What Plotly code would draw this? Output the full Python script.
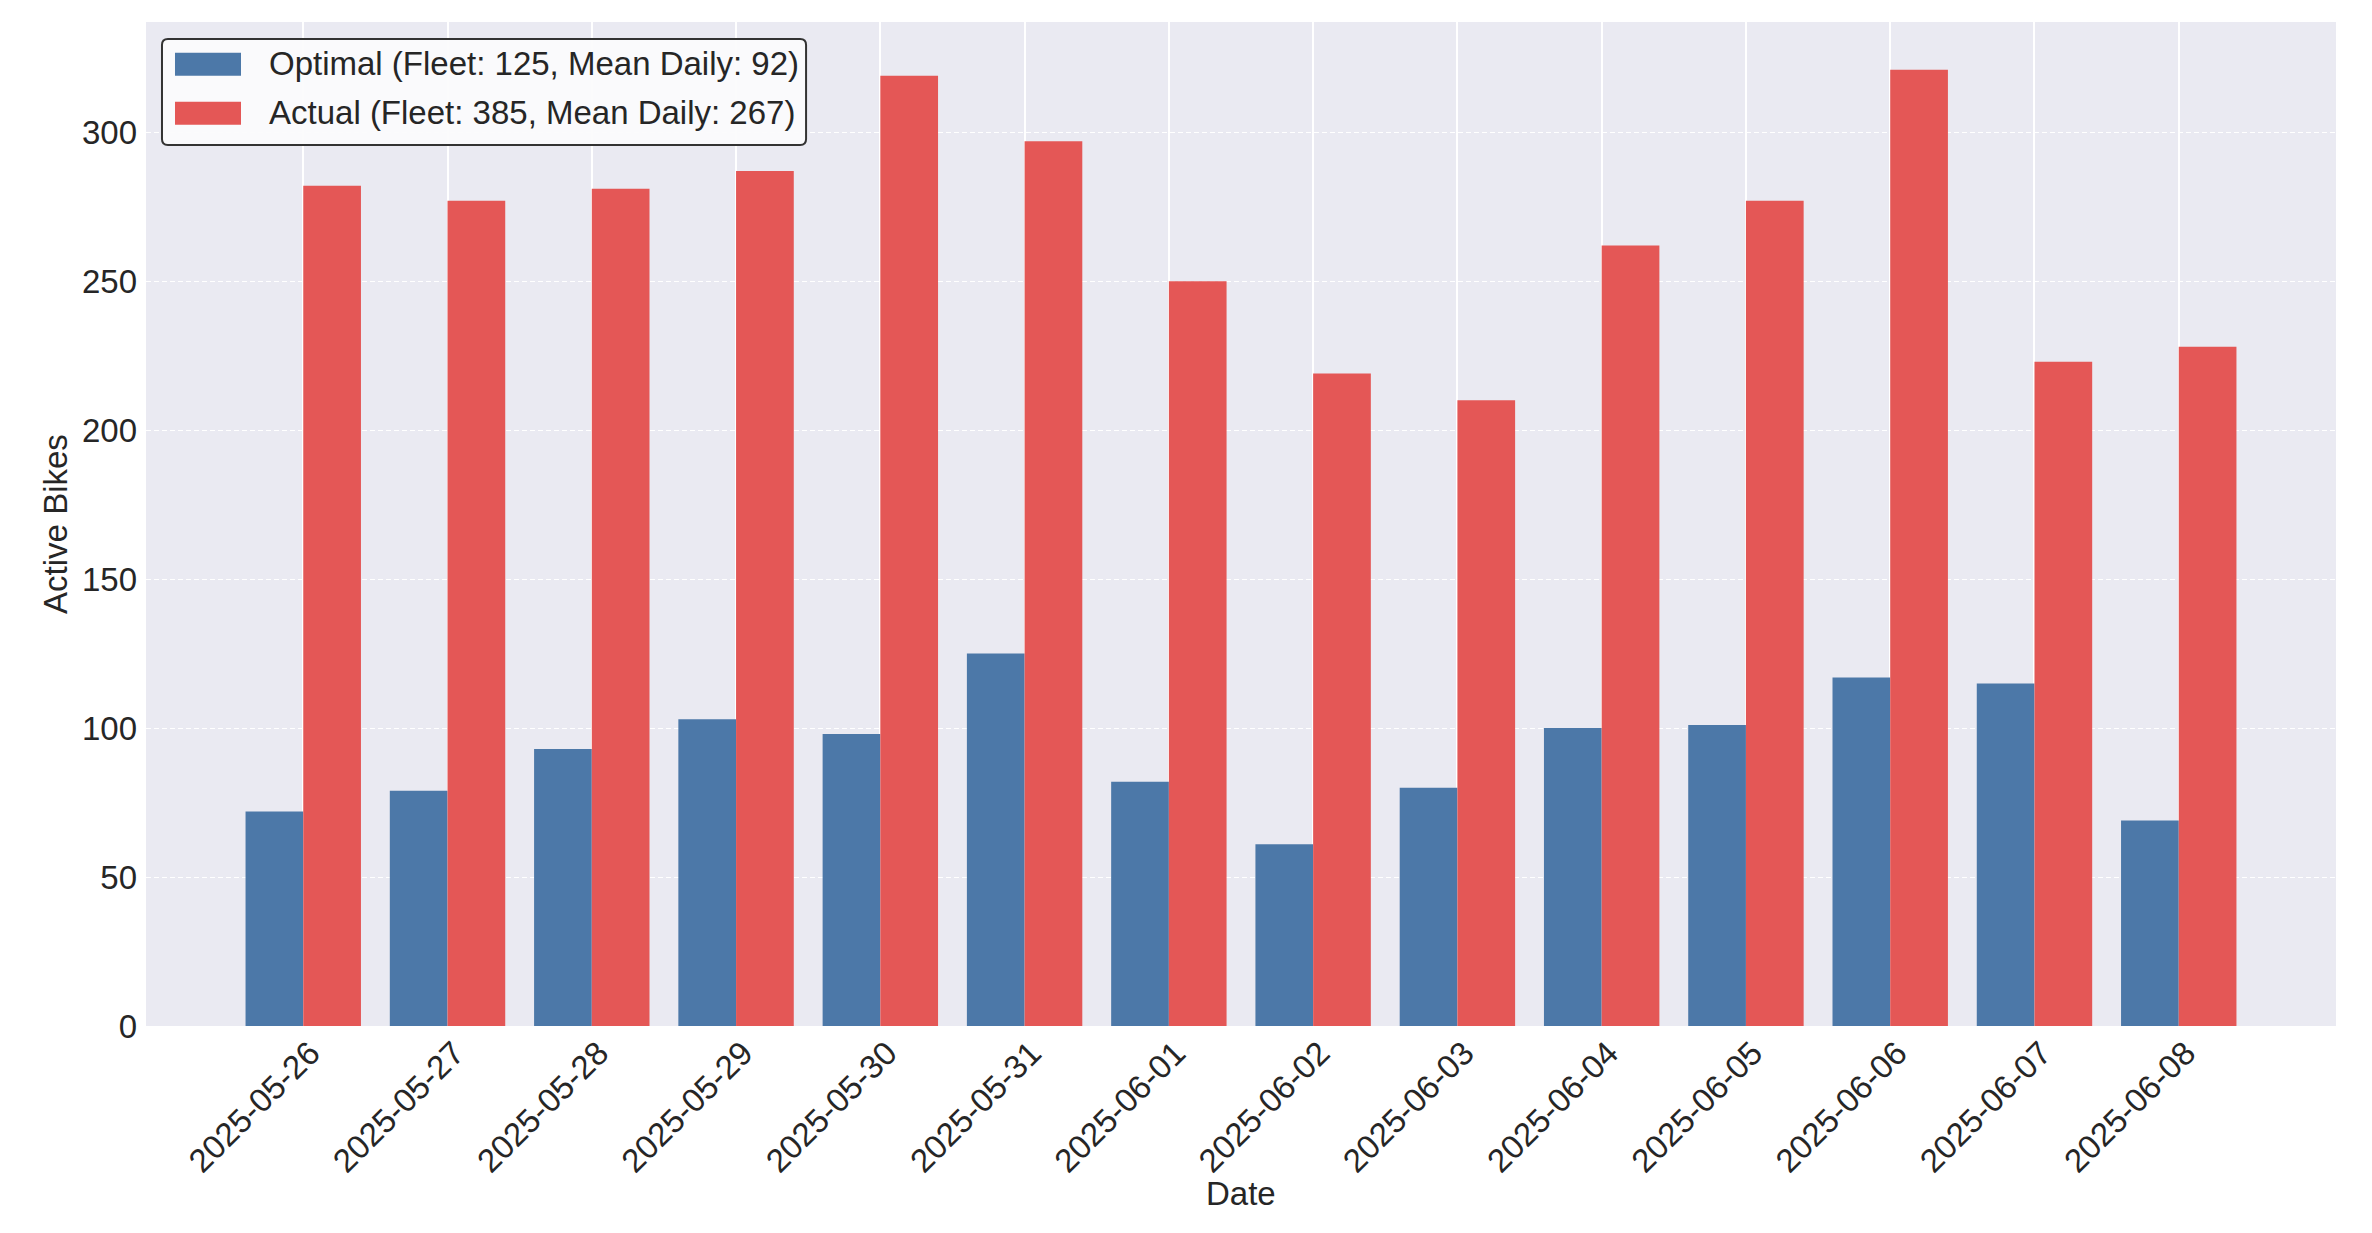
import plotly.graph_objects as go

dates = ["2025-05-26", "2025-05-27", "2025-05-28", "2025-05-29", "2025-05-30",
         "2025-05-31", "2025-06-01", "2025-06-02", "2025-06-03", "2025-06-04",
         "2025-06-05", "2025-06-06", "2025-06-07", "2025-06-08"]
optimal = [72, 79, 93, 103, 98, 125, 82, 61, 80, 100, 101, 117, 115, 69]
actual = [282, 277, 281, 287, 319, 297, 250, 219, 210, 262, 277, 321, 223, 228]
optimal_label = "Optimal (Fleet: 125, Mean Daily: 92)"
actual_label = "Actual (Fleet: 385, Mean Daily: 267)"
y_ticks = [0, 50, 100, 150, 200, 250, 300]

FONT = "Liberation Sans, Arial, sans-serif"
TXT = "#262626"
BLUE = "#4C78A8"
RED = "#E45756"

fig = go.Figure()
fig.add_trace(go.Bar(x=dates, y=optimal, name=optimal_label, showlegend=False,
                     marker=dict(color=BLUE, line=dict(width=0))))
fig.add_trace(go.Bar(x=dates, y=actual, name=actual_label, showlegend=False,
                     marker=dict(color=RED, line=dict(width=0))))

# page has an 8px body margin; compensate so the plot area lands where the reference has it
fig.update_layout(
    width=2356, height=1217,
    barmode="group", bargap=0.2, bargroupgap=0.0,
    paper_bgcolor="white", plot_bgcolor="#EAEAF2",
    margin=dict(l=138, r=28, t=14, b=199, autoexpand=False),
    font=dict(family=FONT, size=33, color=TXT),
    showlegend=False,
)

fig.update_xaxes(
    type="category", range=[-1.09, 14.09],
    tickangle=-45, tickfont=dict(family=FONT, size=33, color=TXT),
    ticklabelshift=7,
    showgrid=True, gridcolor="white", gridwidth=1.6,
    zeroline=False, showline=False, ticks="",
)
fig.update_yaxes(
    range=[0, 337], tickmode="array", tickvals=y_ticks,
    tickfont=dict(family=FONT, size=33, color=TXT),
    showgrid=True, gridcolor="white", gridwidth=1, griddash="5px,3px",
    zeroline=False, showline=False, ticks="", ticklabelstandoff=8,
)

# axis titles
fig.add_annotation(text="Date", xref="paper", yref="paper", x=0.5, y=-0.167,
                   xanchor="center", yanchor="middle", showarrow=False,
                   font=dict(family=FONT, size=33, color=TXT))
fig.add_annotation(text="Active Bikes", xref="paper", yref="paper", x=-0.0416, y=0.5,
                   xanchor="center", yanchor="middle", textangle=-90, showarrow=False,
                   font=dict(family=FONT, size=33, color=TXT))

# legend (matplotlib-style box with wide swatches)
bx0, bx1, by0, by1 = 0.0073, 0.3014, 0.8775, 0.9831
rx, ry = 0.0027, 0.006
path = (f"M {bx0+rx},{by0} L {bx1-rx},{by0} Q {bx1},{by0} {bx1},{by0+ry} "
        f"L {bx1},{by1-ry} Q {bx1},{by1} {bx1-rx},{by1} L {bx0+rx},{by1} "
        f"Q {bx0},{by1} {bx0},{by1-ry} L {bx0},{by0+ry} Q {bx0},{by0} {bx0+rx},{by0} Z")
fig.add_shape(type="path", path=path, xref="paper", yref="paper",
              fillcolor="rgba(251,251,252,0.95)", line=dict(color="#333333", width=2),
              layer="above")
legend_items = [(optimal_label, BLUE, 0.9465, 0.9694, 0.9582),
                (actual_label, RED, 0.8977, 0.9206, 0.9094)]
for label, color, sy0, sy1, ty in legend_items:
    fig.add_shape(type="rect", xref="paper", yref="paper",
                  x0=0.01324, x1=0.04338, y0=sy0, y1=sy1,
                  fillcolor=color, line=dict(width=0), layer="above")
    fig.add_annotation(text=label, xref="paper", yref="paper", x=0.05525, y=ty,
                       xanchor="left", yanchor="middle", showarrow=False,
                       font=dict(family=FONT, size=33, color=TXT))

fig.write_html("out.html")
